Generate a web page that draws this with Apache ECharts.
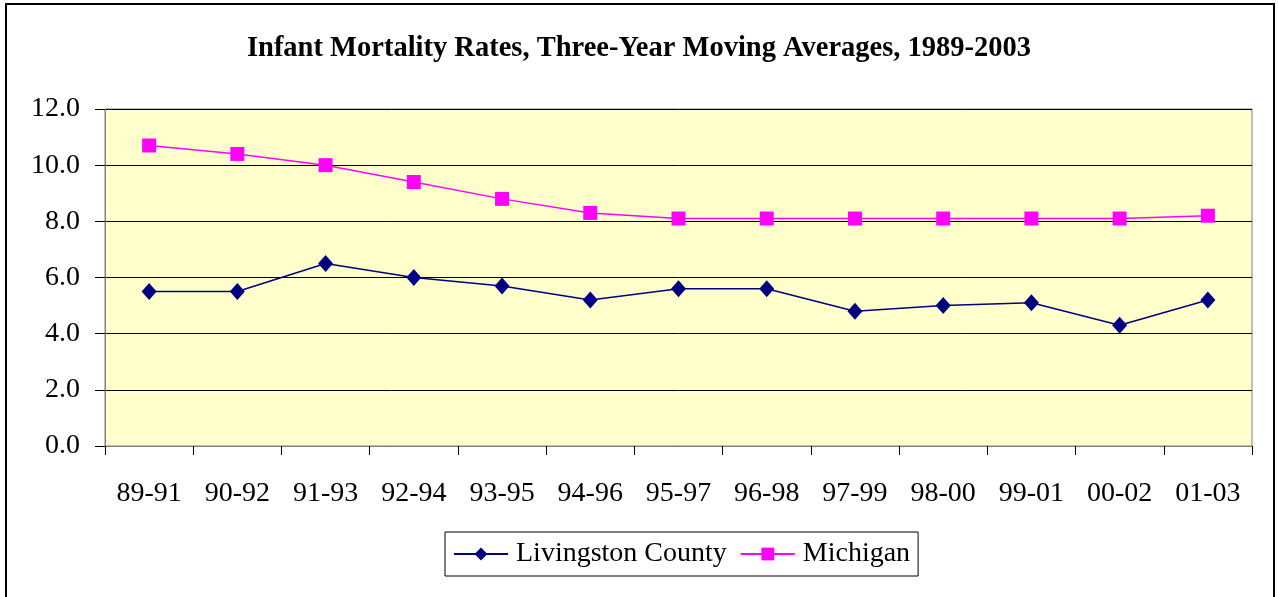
<!DOCTYPE html>
<html lang="en">
<head>
    <meta charset="UTF-8">
    <title>Infant Mortality Rates</title>
    <script src="https://cdn.jsdelivr.net/npm/echarts@6/dist/echarts.min.js"></script>
    <style>
        body { margin: 0; background: #fff; }
        #frame { position: absolute; left: 5px; top: 3px; width: 1266px; height: 600px; border: 2px solid #000; }
        #main { position: absolute; left: 0; top: 0; width: 1278px; height: 597px; }
    </style>
</head>
<body>
<div id="frame"></div>
<div id="main"></div>
<script>
    // three-year periods
    let periods = ['89-91', '90-92', '91-93', '92-94', '93-95', '94-96', '95-97',
                   '96-98', '97-99', '98-00', '99-01', '00-02', '01-03'];
    let livingston = [5.5, 5.5, 6.5, 6.0, 5.7, 5.2, 5.6, 5.6, 4.8, 5.0, 5.1, 4.3, 5.2];
    let michigan = [10.7, 10.4, 10.0, 9.4, 8.8, 8.3, 8.1, 8.1, 8.1, 8.1, 8.1, 8.1, 8.2];

    let font = '"Liberation Serif", "Times New Roman", serif';

    let myChart = echarts.init(document.getElementById('main'));
    let option = {
        animation: false,
        title: {
            text: 'Infant Mortality Rates, Three-Year Moving Averages, 1989-2003',
            left: 'center',
            top: 29,
            textStyle: { fontFamily: font, fontSize: 28.5, fontWeight: 'bold', color: '#000' }
        },
        grid: {
            left: 105, right: 26, top: 109, bottom: 151,
            show: true,
            backgroundColor: '#FFFFCC',
            borderColor: '#808080',
            borderWidth: 1
        },
        legend: {
            top: 532,
            left: 445,
            padding: [8, 8, 8, 8],
            borderColor: '#000',
            borderWidth: 1,
            itemWidth: 54,
            itemHeight: 16,
            itemGap: 13,
            textStyle: { fontFamily: font, fontSize: 28, color: '#000', padding: [0, 0, 0, 3] },
            data: ['Livingston County', 'Michigan']
        },
        xAxis: {
            type: 'category',
            data: periods,
            boundaryGap: true,
            axisLine: { lineStyle: { color: '#808080', width: 1 } },
            axisTick: { show: true, length: 9, lineStyle: { color: '#000' } },
            axisLabel: { fontFamily: font, fontSize: 28, color: '#000', margin: 34 }
        },
        yAxis: {
            type: 'value',
            min: 0, max: 12, interval: 2,
            axisLine: { show: true, lineStyle: { color: '#808080' } },
            axisTick: { show: true, length: 10, lineStyle: { color: '#000' } },
            axisLabel: {
                fontFamily: font, fontSize: 28, color: '#000', margin: 25,
                formatter: function (v) { return v.toFixed(1); }
            },
            splitLine: { show: true, lineStyle: { color: '#000', width: 1 } }
        },
        series: [
            {
                name: 'Livingston County',
                type: 'line',
                data: livingston,
                symbol: 'diamond',
                symbolSize: [15, 17],
                lineStyle: { color: '#000080', width: 1.5 },
                itemStyle: { color: '#000080' }
            },
            {
                name: 'Michigan',
                type: 'line',
                data: michigan,
                symbol: 'rect',
                symbolSize: 14,
                lineStyle: { color: '#FF00FF', width: 1.5 },
                itemStyle: { color: '#FF00FF' }
            }
        ]
    };
    myChart.setOption(option);
</script>
</body>
</html>
